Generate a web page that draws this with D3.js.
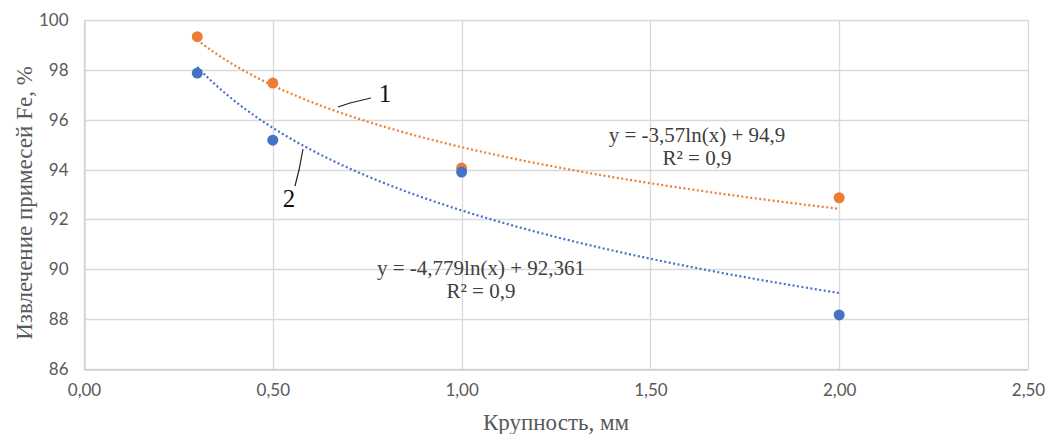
<!DOCTYPE html>
<html>
<head>
<meta charset="utf-8">
<script src="https://cdn.jsdelivr.net/npm/d3@7"></script>
<style>
body { margin: 0; background: #fff; }
</style>
</head>
<body>
<div class="content"></div>
<script>
// data
var sizes = [0.3, 0.5, 1.0, 2.0];
var series1 = [99.33, 97.47, 94.06, 92.87];   // orange, "1"
var series2 = [97.87, 95.18, 93.90, 88.17];   // blue, "2"
var fit1 = [-3.57, 94.9];      // y = a ln(x) + b
var fit2 = [-4.779, 92.361];
var xTicks = [0, 0.5, 1.0, 1.5, 2.0, 2.5];
var yTicks = [86, 88, 90, 92, 94, 96, 98, 100];

var width = 1047, height = 434;
var pLeft = 84, pRight = 1028, pTop = 20, pBottom = 369;
var orange = "#ED7D31", blue = "#4472C4";

var svg = d3.select(".content").append("svg").attr("width", width).attr("height", height);
var x = d3.scaleLinear().domain([0, 2.5]).range([pLeft, pRight]);
var y = d3.scaleLinear().domain([86, 100]).range([pBottom, pTop]);
var fmt = function(v){ return v.toFixed(2).replace(".", ","); };

// grid
svg.append("g").selectAll("line").data(yTicks).enter().append("line")
	.attr("x1", pLeft).attr("x2", pRight)
	.attr("y1", function(d){ return Math.round(y(d)) + 0.5; })
	.attr("y2", function(d){ return Math.round(y(d)) + 0.5; })
	.attr("stroke", "#d9d9d9").attr("stroke-width", 1.3);
svg.append("g").selectAll("line").data(xTicks).enter().append("line")
	.attr("y1", pTop).attr("y2", pBottom)
	.attr("x1", function(d){ return Math.round(x(d)) + 0.5; })
	.attr("x2", function(d){ return Math.round(x(d)) + 0.5; })
	.attr("stroke", "#d9d9d9").attr("stroke-width", 1.3);

// axes
var xa = svg.append("g").attr("transform", "translate(0," + (Math.round(pBottom) + 0.5) + ")")
	.call(d3.axisBottom(x).tickValues(xTicks).tickFormat(fmt).tickSize(0).tickPadding(14));
xa.select(".domain").attr("stroke", "#cfcfcf").attr("stroke-width", 1.3);
var ya = svg.append("g").attr("transform", "translate(" + (pLeft + 0.5) + ",0)")
	.call(d3.axisLeft(y).tickValues(yTicks).tickSize(0).tickPadding(16));
ya.select(".domain").attr("stroke", "#cfcfcf").attr("stroke-width", 1.3);
svg.selectAll(".tick text").attr("font-family", "Lato, Carlito, 'Liberation Sans', sans-serif")
	.attr("font-size", 17).attr("fill", "#595959");

// trendlines
var lnLine = function(c){
	var xs = d3.range(sizes[0], sizes[sizes.length - 1] + 0.001, 0.01);
	return d3.line().x(function(d){ return x(d); }).y(function(d){ return y(c[0] * Math.log(d) + c[1]); })(xs);
};
svg.append("path").attr("d", lnLine(fit1)).attr("fill", "none")
	.attr("stroke", orange).attr("stroke-width", 2.2).attr("stroke-dasharray", "2,2.5");
svg.append("path").attr("d", lnLine(fit2)).attr("fill", "none")
	.attr("stroke", blue).attr("stroke-width", 2.2).attr("stroke-dasharray", "2,2.5");

// points
svg.append("g").selectAll("circle").data(series1).enter().append("circle")
	.attr("cx", function(d, i){ return x(sizes[i]); }).attr("cy", function(d){ return y(d); })
	.attr("r", 5.5).attr("fill", orange);
svg.append("g").selectAll("circle").data(series2).enter().append("circle")
	.attr("cx", function(d, i){ return x(sizes[i]); }).attr("cy", function(d){ return y(d); })
	.attr("r", 5.5).attr("fill", blue);

// equation labels
var serif = "'Liberation Serif', 'Times New Roman', serif";
function eq(cx, cy, l1, l2) {
	svg.append("text").attr("x", cx).attr("y", cy).attr("font-family", serif).attr("font-size", 21)
		.attr("fill", "#404040").attr("text-anchor", "middle").text(l1);
	svg.append("text").attr("x", cx).attr("y", cy + 23).attr("font-family", serif).attr("font-size", 21)
		.attr("fill", "#404040").attr("text-anchor", "middle").text(l2);
}
eq(697, 142, "y = -3,57ln(x) + 94,9", "R² = 0,9");
eq(481, 275, "y = -4,779ln(x) + 92,361", "R² = 0,9");

// series numbers with leaders
svg.append("path").attr("d", "M338,107L350,103L371,98").attr("stroke", "#222").attr("fill", "none").attr("stroke-width", 1.2);
svg.append("text").attr("x", 385).attr("y", 102).attr("font-family", serif).attr("font-size", 25)
	.attr("text-anchor", "middle").attr("fill", "#111").text("1");
svg.append("path").attr("d", "M303,149L299,170L295,186").attr("stroke", "#222").attr("fill", "none").attr("stroke-width", 1.2);
svg.append("text").attr("x", 289).attr("y", 207).attr("font-family", serif).attr("font-size", 25)
	.attr("text-anchor", "middle").attr("fill", "#111").text("2");

// axis titles
svg.append("text").attr("x", 556).attr("y", 430).attr("text-anchor", "middle")
	.attr("font-family", serif).attr("font-size", 23).attr("fill", "#595959").text("Крупность, мм");
svg.append("text").attr("transform", "translate(32,203) rotate(-90)")
	.attr("text-anchor", "middle").attr("font-family", serif).attr("font-size", 23)
	.attr("fill", "#595959").text("Извлечение примесей Fe, %");
</script>
</body>
</html>
